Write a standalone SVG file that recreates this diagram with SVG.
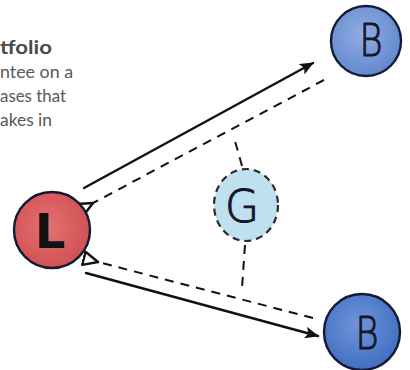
<svg xmlns="http://www.w3.org/2000/svg" width="410" height="370" viewBox="0 0 410 370">
<style>
.cap{font-family:Lato,"Liberation Sans",sans-serif;font-size:18px;fill:#58585a}
.bold{font-weight:bold;fill:#4a4a4c}
.solid{stroke:#111;stroke-width:2.4;fill:none;stroke-linecap:round}
.dash{stroke:#111;stroke-width:2;fill:none;stroke-dasharray:9 7}
.ring{stroke:#141a33;stroke-width:2.4}
.let{font-family:"DejaVu Sans","Liberation Sans",sans-serif;font-weight:200;text-anchor:middle;fill:#14162a;stroke:#14162a;stroke-width:1}
</style>
<defs>
<marker id="solidHead" viewBox="0 0 14 12" refX="13" refY="6" markerWidth="14" markerHeight="12" markerUnits="userSpaceOnUse" orient="auto">
<path d="M0,0 L14,6 L0,12 L3,6 Z" fill="#111"/>
</marker>
<marker id="openHead" viewBox="0 0 16 14" refX="2" refY="7" markerWidth="18" markerHeight="16" markerUnits="userSpaceOnUse" orient="auto">
<path d="M15,1 L2,7 L15,13 Z" fill="#fff" stroke="#111" stroke-width="2.2" stroke-linejoin="round"/>
</marker>
<radialGradient id="bTop" cx="45%" cy="40%" r="65%">
<stop offset="0" stop-color="#8fade0"/>
<stop offset="1" stop-color="#5f86cc"/>
</radialGradient>
<radialGradient id="bBot" cx="45%" cy="40%" r="65%">
<stop offset="0" stop-color="#6f95d8"/>
<stop offset="1" stop-color="#3f6cc0"/>
</radialGradient>
<radialGradient id="red" cx="45%" cy="45%" r="60%">
<stop offset="0" stop-color="#e27272"/>
<stop offset="1" stop-color="#d24e52"/>
</radialGradient>
</defs>

<g id="caption">
<text class="cap bold" x="0" y="54" textLength="52" lengthAdjust="spacingAndGlyphs">tfolio</text>
<text class="cap" x="0" y="78" textLength="73" lengthAdjust="spacingAndGlyphs">ntee on a</text>
<text class="cap" x="0" y="102" textLength="66" lengthAdjust="spacingAndGlyphs">ases that</text>
<text class="cap" x="0" y="126" textLength="52" lengthAdjust="spacingAndGlyphs">akes in</text>
</g>

<g id="connectors">
<line class="solid" x1="84" y1="188" x2="313" y2="63" marker-end="url(#solidHead)"/>
<line class="dash" x1="324" y1="80" x2="93" y2="203" marker-end="url(#openHead)"/>
<line class="dash" x1="242" y1="166" x2="235" y2="141"/>
<line class="solid" x1="86" y1="273" x2="318" y2="336" marker-end="url(#solidHead)"/>
<line class="dash" x1="313" y1="318" x2="98" y2="262" marker-end="url(#openHead)"/>
<line class="dash" x1="245" y1="245" x2="242" y2="288"/>
</g>

<g id="node-L">
<circle cx="52" cy="230" r="38" fill="url(#red)" class="ring" stroke="#1a1010"/>
<text x="50" y="248" font-family="'DejaVu Sans','Liberation Sans',sans-serif" text-anchor="middle" font-size="48" font-weight="bold" fill="#111">L</text>
</g>

<g id="node-G">
<ellipse cx="246" cy="205" rx="32" ry="36" fill="#bfe0ee" stroke="#2a2a30" stroke-width="2.2" stroke-dasharray="7 5"/>
<text class="let" x="242" y="222" font-size="44">G</text>
</g>

<g id="node-B-top">
<circle cx="366" cy="41" r="35" fill="url(#bTop)" class="ring"/>
<text class="let" transform="translate(371,56) scale(0.8,1)" x="0" y="0" font-size="44">B</text>
</g>

<g id="node-B-bottom">
<circle cx="362" cy="332" r="38" fill="url(#bBot)" class="ring"/>
<text class="let" transform="translate(367,349) scale(0.8,1)" x="0" y="0" font-size="44">B</text>
</g>
</svg>
